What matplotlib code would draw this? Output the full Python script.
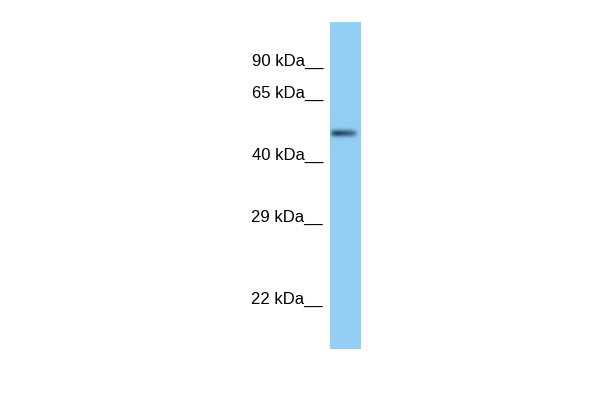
import numpy as np
import matplotlib.pyplot as plt

# marker ladder (label, migration position in px from top of figure)
marker_labels = ["90 kDa", "65 kDa", "40 kDa", "29 kDa", "22 kDa"]
marker_pos = [60, 92, 154, 216, 298]

# detected band
band_pos = 133
band_strength = 0.95

lane_top, lane_bottom = 22, 349
lane_left, lane_right = 330, 360

plt.rcParams['font.family'] = ['Liberation Sans', 'DejaVu Sans']

fig = plt.figure(figsize=(6, 4), dpi=100)
fig.patch.set_facecolor("white")
ax = fig.add_axes([lane_left / 600, 1 - lane_bottom / 400,
                   (lane_right - lane_left) / 600, (lane_bottom - lane_top) / 400])

# build the lane image
ys = np.arange(lane_top, lane_bottom, 0.5)
xs = np.linspace(0, 1, 60)
X, Y = np.meshgrid(xs, ys)
bg = np.array([147, 207, 242]) / 255
dark = np.array([20, 45, 75]) / 255
horiz = np.clip(1.0 - 0.5 * (X - 0.1), 0, 1) * np.exp(-((X - 0.45) / 0.42) ** 6)
band = band_strength * np.exp(-((Y - band_pos) / 3.4) ** 2) * horiz
img = bg[None, None, :] * (1 - band[..., None]) + dark[None, None, :] * band[..., None]
ax.imshow(img, extent=[0, 1, lane_bottom, lane_top], aspect="auto", interpolation="bilinear")
ax.set_xlim(0, 1)
ax.set_ylim(lane_bottom, lane_top)

ax.set_xticks([])
ax.set_yticks(marker_pos)
ax.set_yticklabels([lab + "__" for lab in marker_labels], fontsize=12)
ax.tick_params(axis="y", length=0, pad=5)
for s in ax.spines.values():
    s.set_visible(False)

fig.savefig("out.png", dpi=100)
